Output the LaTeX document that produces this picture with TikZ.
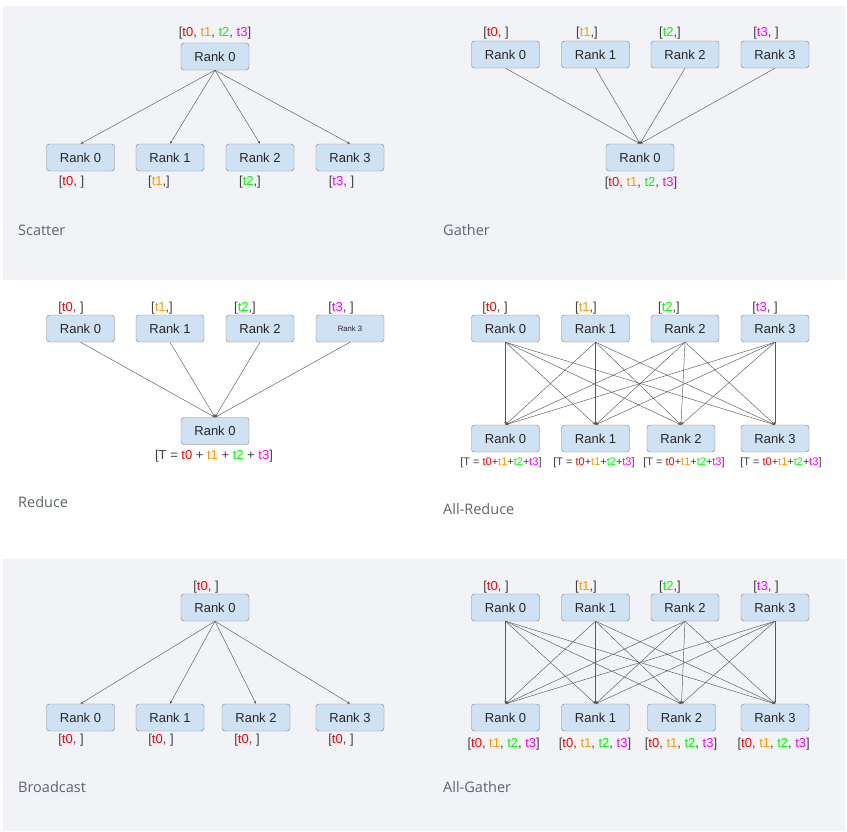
\documentclass[tikz,border=0pt]{standalone}
\usepackage{fontspec}
\setmainfont{Liberation Sans}
\newfontfamily\capfont{Open Sans}
\usepackage{tikz}
\usetikzlibrary{positioning,arrows.meta}
\definecolor{panel}{RGB}{241,243,247}
\definecolor{boxfill}{RGB}{207,226,243}
\definecolor{boxline}{RGB}{125,125,125}
\definecolor{tred}{RGB}{255,0,0}
\definecolor{torange}{RGB}{255,153,0}
\definecolor{tgreen}{RGB}{0,255,0}
\definecolor{tmagenta}{RGB}{255,0,255}
\definecolor{capgray}{RGB}{95,99,104}
\newcommand{\tcZero}{\textcolor{tred}{t0}}
\newcommand{\tcOne}{\textcolor{torange}{t1}}
\newcommand{\tcTwo}{\textcolor{tgreen}{t2}}
\newcommand{\tcThree}{\textcolor{tmagenta}{t3}}
\newcommand{\allT}{[\tcZero, \tcOne, \tcTwo, \tcThree]}
\tikzset{
  rank/.style={draw=boxline, fill=boxfill, rounded corners=3pt, minimum width=68pt,
    minimum height=27pt, inner sep=0pt, font=\fontsize{13}{15}\selectfont, text=black!85},
  lbl/.style={inner sep=0pt, font=\fontsize{13}{15}\selectfont, text=black!75},
  smalllbl/.style={inner sep=0pt, font=\fontsize{11}{13}\selectfont, text=black!75},
  caption/.style={anchor=west, inner sep=0pt, font=\capfont\fontsize{14.5}{17}\selectfont, text=capgray},
  link/.style={draw=black!65, line width=0.45pt, -{Stealth[length=3pt,width=2.4pt]}}
}

\begin{document}
\begin{tikzpicture}[x=1pt, y=-1pt]
    \useasboundingbox (0,0) rectangle (847,831);
    \fill[panel] (3,6) rectangle (845,280);
    \fill[panel] (3,559) rectangle (845,831);

    % scatter
    \node[lbl] (sc-tl) at (215,33) {\allT};
    \node[rank] (sc-r) at (215,56.5) {Rank 0};
    \foreach \x/\i in {80.5/0,170/1,260/2,350/3}
        \node[rank] (sc-\i) at (\x,157.5) {Rank \i};
    \node[lbl] (sc-l0) at (71.5,182) {[\tcZero, ]};
    \node[lbl] (sc-l1) at (159,182) {[\tcOne,]};
    \node[lbl] (sc-l2) at (250,182) {[\tcTwo,]};
    \node[lbl] (sc-l3) at (341.5,182) {[\tcThree, ]};
    \foreach \i in {0,...,3}
        \draw[link] (sc-r.south) -- (sc-\i.north);
    \node[caption] (sc-cap) at (18,230) {Scatter};

    % gather
    \foreach \x/\i in {505.5/0,595.5/1,685/2,775/3}
        \node[rank] (ga-\i) at (\x,54.5) {Rank \i};
    \node[lbl] (ga-l0) at (496,33) {[\tcZero, ]};
    \node[lbl] (ga-l1) at (587,33) {[\tcOne,]};
    \node[lbl] (ga-l2) at (670,33) {[\tcTwo,]};
    \node[lbl] (ga-l3) at (766,33) {[\tcThree, ]};
    \node[rank] (ga-r) at (640,157.5) {Rank 0};
    \node[lbl] (ga-bl) at (641,183) {\allT};
    \foreach \i in {0,...,3}
        \draw[link] (ga-\i.south) -- (ga-r.north);
    \node[caption] (ga-cap) at (443,230) {Gather};

    % reduce
    \foreach \x/\i in {80.5/0,170/1,260/2}
        \node[rank] (re-\i) at (\x,328.5) {Rank \i};
    \node[rank, font=\fontsize{7.7}{9}\selectfont] (re-3) at (350,328.5) {Rank 3};
    \node[lbl] (re-l0) at (71,308) {[\tcZero, ]};
    \node[lbl] (re-l1) at (162,308) {[\tcOne,]};
    \node[lbl] (re-l2) at (245,308) {[\tcTwo,]};
    \node[lbl] (re-l3) at (341,308) {[\tcThree, ]};
    \node[rank] (re-r) at (215,431) {Rank 0};
    \node[lbl] (re-bl) at (214,456) {[T = \tcZero{} + \tcOne{} + \tcTwo{} + \tcThree]};
    \foreach \i in {0,...,3}
        \draw[link] (re-\i.south) -- (re-r.north);
    \node[caption] (re-cap) at (18,502) {Reduce};

    % all-reduce
    \foreach \x/\i in {505.5/0,595.5/1,685/2,775/3}
        \node[rank] (ar-t\i) at (\x,328.5) {Rank \i};
    \node[lbl] (ar-l0) at (495,308) {[\tcZero, ]};
    \node[lbl] (ar-l1) at (586,308) {[\tcOne,]};
    \node[lbl] (ar-l2) at (669,308) {[\tcTwo,]};
    \node[lbl] (ar-l3) at (765,308) {[\tcThree, ]};
    \foreach \x/\i/\lx in {505.5/0/501,595.5/1/594,681/2/684,775/3/781}{
        \node[rank] (ar-b\i) at (\x,438.5) {Rank \i};
        \node[smalllbl] (ar-bl\i) at (\lx,463) {[T = \tcZero+\tcOne+\tcTwo+\tcThree]};
    }
    \foreach \i in {0,...,3}
        \foreach \j in {0,...,3}
            \draw[link] (ar-t\i.south) -- (ar-b\j.north);
    \node[caption] (ar-cap) at (443,509) {All-Reduce};

    % broadcast
    \node[lbl] (bc-tl) at (206,587) {[\tcZero, ]};
    \node[rank] (bc-r) at (215,607.5) {Rank 0};
    \foreach \x/\i/\lx in {80.5/0/71,170/1/161,256/2/247,350/3/341}{
        \node[rank] (bc-\i) at (\x,717.5) {Rank \i};
        \node[lbl] (bc-l\i) at (\lx,740) {[\tcZero, ]};
        \draw[link] (bc-r.south) -- (bc-\i.north);
    }
    \node[caption] (bc-cap) at (18,787) {Broadcast};

    % all-gather
    \foreach \x/\i in {505.5/0,595.5/1,685/2,775/3}
        \node[rank] (ag-t\i) at (\x,607.5) {Rank \i};
    \node[lbl] (ag-l0) at (496,587) {[\tcZero, ]};
    \node[lbl] (ag-l1) at (586,587) {[\tcOne,]};
    \node[lbl] (ag-l2) at (670,587) {[\tcTwo,]};
    \node[lbl] (ag-l3) at (766,587) {[\tcThree, ]};
    \foreach \x/\i/\lx in {505.5/0/503.7,595.5/1/595,681.5/2/681,775/3/773.7}{
        \node[rank] (ag-b\i) at (\x,717.5) {Rank \i};
        \node[lbl] (ag-bl\i) at (\lx,744) {\allT};
    }
    \foreach \i in {0,...,3}
        \foreach \j in {0,...,3}
            \draw[link] (ag-t\i.south) -- (ag-b\j.north);
    \node[caption] (ag-cap) at (443,787) {All-Gather};
\end{tikzpicture}
\end{document}
